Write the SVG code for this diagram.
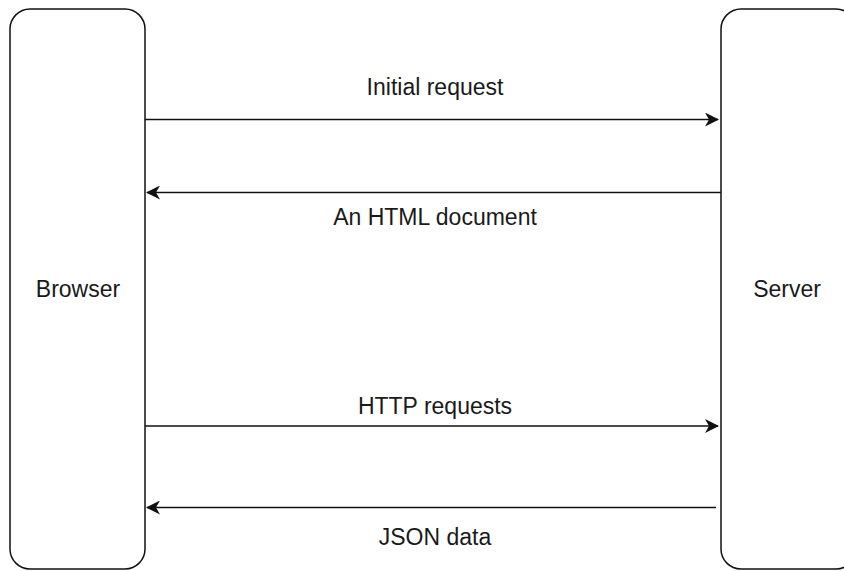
<svg xmlns="http://www.w3.org/2000/svg" width="844" height="571" viewBox="0 0 844 571">
  <defs>
    <style>
      .box { fill: #ffffff; stroke: #111111; stroke-width: 1.5; }
      .label { font-family: "Liberation Sans", Arial, Helvetica, sans-serif; font-size: 23px; fill: #1a1a1a; text-anchor: middle; }
      .msg { stroke: #111111; stroke-width: 1.5; fill: none; }
    </style>
    <marker id="arrow" viewBox="0 0 14 14" refX="13" refY="7" markerWidth="14" markerHeight="14" markerUnits="userSpaceOnUse" orient="auto">
      <path d="M0,0 L14,7 L0,14 L4,7 Z" fill="#111111"/>
    </marker>
  </defs>
  <rect width="844" height="571" fill="#ffffff"/>

  <g id="browser">
    <rect class="box" x="10" y="9" width="135" height="560" rx="20" ry="20"/>
    <text class="label" x="78" y="297">Browser</text>
  </g>

  <g id="server">
    <rect class="box" x="721" y="9" width="135" height="560" rx="20" ry="20"/>
    <text class="label" x="787" y="297">Server</text>
  </g>

  <g id="connectors">
    <line class="msg" x1="145" y1="119.5" x2="718" y2="119.5" marker-end="url(#arrow)"/>
    <text class="label" x="435" y="95">Initial request</text>

    <line class="msg" x1="721" y1="192.5" x2="147" y2="192.5" marker-end="url(#arrow)"/>
    <text class="label" x="435" y="225">An HTML document</text>

    <line class="msg" x1="145" y1="426" x2="718" y2="426" marker-end="url(#arrow)"/>
    <text class="label" x="435" y="414">HTTP requests</text>

    <line class="msg" x1="716" y1="507.5" x2="147" y2="507.5" marker-end="url(#arrow)"/>
    <text class="label" x="435" y="545">JSON data</text>
  </g>
</svg>
